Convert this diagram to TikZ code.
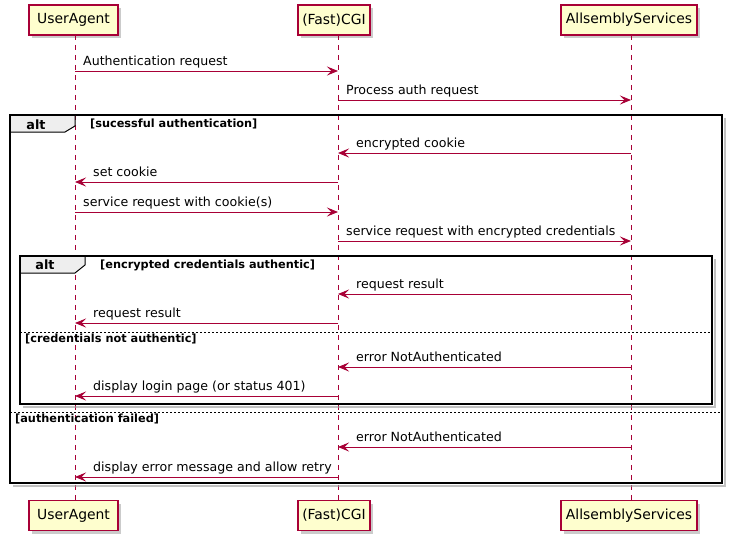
\documentclass[tikz,border=0pt]{standalone}
\usepackage{fontspec}
\setmainfont{DejaVu Sans}
\usetikzlibrary{arrows.meta,shadows}
\definecolor{pu}{HTML}{A80036}
\definecolor{pfill}{HTML}{FEFECE}
\definecolor{tabfill}{HTML}{EEEEEE}
\newcommand\msgfont{\fontsize{12.6pt}{15pt}\selectfont}
\newcommand\grpfont{\fontsize{11.3pt}{13pt}\selectfont\bfseries}
\newcommand\msgLR[4]{%
  \draw[msg] (#1 |- 0,#3) -- (#2 |- 0,#3);
  \path (#1 |- 0,#3) ++(8,-5.5) node[lbl]{#4};}
\newcommand\msgRL[4]{%
  \draw[msg] (#1 |- 0,#3) -- (#2 |- 0,#3);
  \path (#2 |- 0,#3) ++(18,-5.5) node[lbl]{#4};}
\begin{document}
\begin{tikzpicture}[x=1pt,y=-1pt,
  part/.style={draw=pu, line width=1.1pt, fill=pfill, minimum height=30pt,
    inner xsep=2pt, font=\fontsize{13.9pt}{16pt}\selectfont,
    drop shadow={shadow xshift=3pt,shadow yshift=-3pt,fill=black!45,opacity=.45}},
  life/.style={draw=pu, line width=0.9pt, dash pattern=on 5pt off 5pt},
  msg/.style={draw=pu, line width=0.9pt, -{Stealth[length=11pt,width=9pt,inset=4.5pt]}},
  lbl/.style={anchor=base west, inner sep=0pt, font=\msgfont},
  frame/.style={draw=black, line width=1.6pt},
  frameshadow/.style={draw=black!40, line width=2.2pt, opacity=.6},
  tab/.style={draw=black, line width=1pt, fill=tabfill},
  sep/.style={draw=black, line width=0.8pt, dash pattern=on 2pt off 2pt},
  glbl/.style={anchor=base west, inner sep=0pt, font=\grpfont},
  alttxt/.style={anchor=base, inner sep=0pt, font=\fontsize{12.8pt}{15pt}\selectfont\bfseries}]
\useasboundingbox (0,0) rectangle (734,544);
\fill[white] (0,0) rectangle (734,544);

% participants
\node[part, minimum width=89pt] (ua) at (73.5,20) {UserAgent};
\node[part, minimum width=72pt] (cgi) at (334,20) {(Fast)CGI};
\node[part, minimum width=136pt] (as) at (629,20) {AllsemblyServices};
\node[part, minimum width=89pt] (ua2) at (73.5,515.5) {UserAgent};
\node[part, minimum width=72pt] (cgi2) at (334,515.5) {(Fast)CGI};
\node[part, minimum width=136pt] (as2) at (629,515.5) {AllsemblyServices};

% lifelines
\coordinate (lua) at (75,35);  \coordinate (lua2) at (75,500);
\coordinate (lcgi) at (338,35); \coordinate (lcgi2) at (338,500);
\coordinate (las) at (631,35); \coordinate (las2) at (631,500);
\draw[life] (lua) -- (lua2);
\draw[life] (lcgi) -- (lcgi2);
\draw[life] (las) -- (las2);

% outer alt frame
\draw[frameshadow] (725,118) -- (725,486) -- (13,486);
\draw[tab] (10,115) -- (75,115) -- (75,126) -- (65,132) -- (10,132) -- cycle;
\draw[frame] (10,115) rectangle (722,483);
\node[alttxt] (alt1) at (36,129) {alt};
\node[glbl] (g1) at (90,127) {[sucessful authentication]};
\draw[sep] (10,412) -- (722,412);
\node[glbl] (g2) at (15,422) {[authentication failed]};

% inner alt frame
\draw[frameshadow] (715,259) -- (715,407) -- (23,407);
\draw[tab] (20,256) -- (85,256) -- (85,265) -- (75,273) -- (20,273) -- cycle;
\draw[frame] (20,256) rectangle (712,404);
\node[alttxt] (alt2) at (45,269) {alt};
\node[glbl] (g3) at (100,268) {[encrypted credentials authentic]};
\draw[sep] (20,332) -- (712,332);
\node[glbl] (g4) at (25,342) {[credentials not authentic]};

% messages
\msgLR{lua}{lcgi}{71}{Authentication request}
\msgLR{lcgi}{las}{100}{Process auth request}
\msgRL{las}{lcgi}{153}{encrypted cookie}
\msgRL{lcgi}{lua}{182}{set cookie}
\msgLR{lua}{lcgi}{212}{service request with cookie(s)}
\msgLR{lcgi}{las}{241}{service request with encrypted credentials}
\msgRL{las}{lcgi}{294}{request result}
\msgRL{lcgi}{lua}{323}{request result}
\msgRL{las}{lcgi}{367}{error NotAuthenticated}
\msgRL{lcgi}{lua}{396}{display login page (or status 401)}
\msgRL{las}{lcgi}{447}{error NotAuthenticated}
\msgRL{lcgi}{lua}{477}{display error message and allow retry}
\end{tikzpicture}
\end{document}
